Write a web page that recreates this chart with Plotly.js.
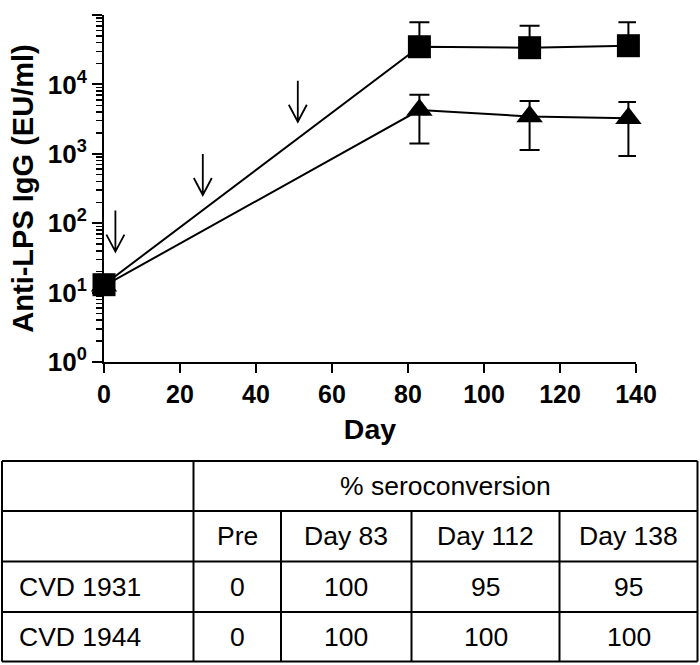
<!DOCTYPE html>
<html>
<head>
<meta charset="utf-8">
<script src="https://cdn.plot.ly/plotly-3.0.1.min.js"></script>
<style>html,body{margin:0;padding:0;background:#fff;}#chart{width:700px;height:665px;}</style>
</head>
<body>
<div id="chart"></div>
<script>
// ---- chart data ----
var days = [0, 83, 112, 138];
var cvd1931 = [13, 34900, 33800, 36100];   // squares (mean)
var cvd1931SDUp = [0, 43600, 36300, 42400];
var cvd1931SDDown = [0, 0, 0, 0];          // lower bars not drawn on the log axis
var cvd1944 = [12.5, 4260, 3450, 3250];    // triangles (mean)
var cvd1944SD = [0, 2850, 2320, 2320];
var doseDays = [3, 26, 51];
var doseArrowTips = [39, 255, 2900];

var yTickVals = [1, 10, 100, 1000, 10000, 100000];
var yTickText = ['10<sup>0</sup>', '10<sup>1</sup>', '10<sup>2</sup>', '10<sup>3</sup>', '10<sup>4</sup>', '10<sup>5</sup>'];

// ---- table data ----
var tableHeader = '% seroconversion';
var tableCols = ['Pre', 'Day 83', 'Day 112', 'Day 138'];
var tableRows = ['CVD 1931', 'CVD 1944'];
var sero1931 = [0, 100, 95, 95];
var sero1944 = [0, 100, 100, 100];

// ---- geometry ----
var W = 700, H = 665;
var mL = 104, mR = 64, mT = 15, mB = 303;
var pw = W - mL - mR, ph = H - mT - mB;
function px(x) { return (x - mL) / pw; }
function py(y) { return (H - mB - y) / ph; }

var FONT = 'Liberation Sans, Arial, sans-serif';

var traces = [
  {
    x: days, y: cvd1944, type: 'scatter', mode: 'lines+markers', name: 'CVD 1944',
    line: {color: 'black', width: 2},
    marker: {symbol: 'triangle-up', size: 23, color: 'black'},
    error_y: {type: 'data', array: cvd1944SD, visible: true, color: 'black', thickness: 2, width: 10},
    cliponaxis: false
  },
  {
    x: days, y: cvd1931, type: 'scatter', mode: 'lines+markers', name: 'CVD 1931',
    line: {color: 'black', width: 2},
    marker: {symbol: 'square', size: 23, color: 'black'},
    error_y: {type: 'data', symmetric: false, array: cvd1931SDUp, arrayminus: cvd1931SDDown, visible: true, color: 'black', thickness: 2, width: 10},
    cliponaxis: false
  }
];

var shapes = [];
var annotations = [];

// dose arrows
for (var i = 0; i < doseDays.length; i++) {
  shapes.push({
    type: 'path', xref: 'x', yref: 'y', xsizemode: 'pixel', ysizemode: 'pixel',
    xanchor: doseDays[i], yanchor: doseArrowTips[i],
    path: 'M0,0L0,41M-9,17L0,0L9,17',
    line: {color: 'black', width: 1.8}
  });
}

// table grid
var tY = [461, 511, 561.5, 612, 661.5];
var tX = [2, 193.5, 281, 411.5, 559.5, 697.5];
function hline(y, x0, x1) {
  shapes.push({type: 'line', xref: 'paper', yref: 'paper', x0: px(x0), x1: px(x1), y0: py(y), y1: py(y), line: {color: 'black', width: 2}});
}
function vline(x, y0, y1) {
  shapes.push({type: 'line', xref: 'paper', yref: 'paper', x0: px(x), x1: px(x), y0: py(y0), y1: py(y1), line: {color: 'black', width: 2}});
}
for (var r = 0; r < tY.length; r++) hline(tY[r], tX[0], tX[tX.length - 1]);
vline(tX[0], tY[0], tY[4]);
vline(tX[1], tY[0], tY[4]);
vline(tX[5], tY[0], tY[4]);
for (var c = 2; c < 5; c++) vline(tX[c], tY[1], tY[4]);

function txt(s, x, y, anchor) {
  annotations.push({text: s, xref: 'paper', yref: 'paper', x: px(x), y: py(y), xanchor: anchor || 'center', yanchor: 'middle',
    showarrow: false, font: {family: FONT, size: 26.5, color: 'black'}});
}
txt(tableHeader, (tX[1] + tX[5]) / 2, (tY[0] + tY[1]) / 2);
for (var c2 = 0; c2 < tableCols.length; c2++) {
  var cx = (tX[c2 + 1] + tX[c2 + 2]) / 2;
  txt(tableCols[c2], cx, (tY[1] + tY[2]) / 2);
  txt(String(sero1931[c2]), cx, (tY[2] + tY[3]) / 2);
  txt(String(sero1944[c2]), cx, (tY[3] + tY[4]) / 2);
}
txt(tableRows[0], 17, (tY[2] + tY[3]) / 2, 'left');
txt(tableRows[1], 17, (tY[3] + tY[4]) / 2, 'left');

var layout = {
  width: W, height: H,
  margin: {l: mL, r: mR, t: mT, b: mB, pad: 0},
  paper_bgcolor: 'white', plot_bgcolor: 'white',
  showlegend: false,
  font: {family: FONT, color: 'black'},
  xaxis: {
    range: [0, 140], tickmode: 'linear', tick0: 0, dtick: 20,
    showline: true, linecolor: 'black', linewidth: 2,
    ticks: 'outside', ticklen: 9, tickwidth: 2, tickcolor: 'black',
    showgrid: false, zeroline: false,
    tickfont: {family: FONT, size: 25, color: 'black', weight: 'bold'},
    title: {text: 'Day', font: {family: FONT, size: 28.5, color: 'black', weight: 'bold'}, standoff: 12}
  },
  yaxis: {
    type: 'log', range: [0, 5],
    tickmode: 'array', tickvals: yTickVals, ticktext: yTickText,
    showline: true, linecolor: 'black', linewidth: 2,
    ticks: 'outside', ticklen: 10, tickwidth: 2, tickcolor: 'black',
    minor: {ticks: 'outside', ticklen: 6, tickwidth: 1.5, tickcolor: 'black', dtick: 'D1', showgrid: false},
    showgrid: false, zeroline: false,
    tickfont: {family: FONT, size: 26, color: 'black', weight: 'bold'},
    title: {text: 'Anti-LPS IgG (EU/ml)', font: {family: FONT, size: 29, color: 'black', weight: 'bold'}, standoff: 6}
  },
  shapes: shapes,
  annotations: annotations
};

Plotly.newPlot('chart', traces, layout, {displayModeBar: false, staticPlot: true});
</script>
</body>
</html>
